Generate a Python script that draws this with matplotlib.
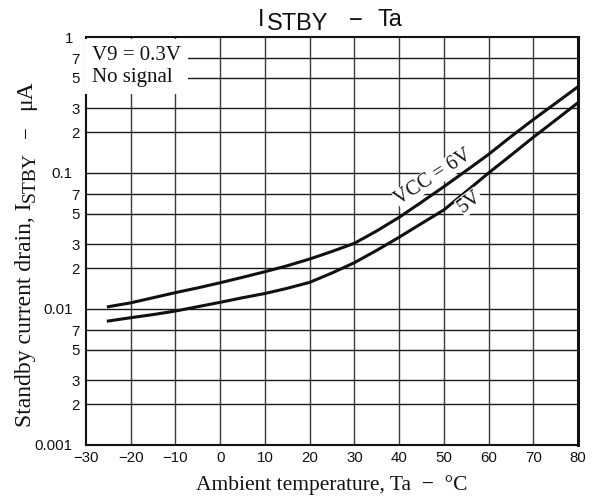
import matplotlib
matplotlib.use("Agg")
import matplotlib.pyplot as plt
from matplotlib.ticker import FixedLocator, FixedFormatter, NullLocator

# ---- data ----
temps = [-25, -20, -15, -10, -5, 0, 5, 10, 15, 20, 25, 30, 35, 40, 45, 50, 55, 60, 65, 70, 75, 80]
i_vcc6 = [0.0104, 0.0111, 0.0121, 0.0132, 0.0143, 0.0156, 0.0171, 0.0188, 0.0208, 0.0233,
          0.0265, 0.0304, 0.0375, 0.0472, 0.061, 0.0793, 0.104, 0.137, 0.185, 0.247, 0.326, 0.431]
i_vcc5 = [0.00816, 0.00863, 0.0091, 0.00966, 0.0104, 0.0112, 0.0121, 0.0130, 0.0142, 0.0157,
          0.0184, 0.0219, 0.0270, 0.0337, 0.0425, 0.0535, 0.073, 0.100, 0.135, 0.183, 0.245, 0.329]

x_ticks = [-30, -20, -10, 0, 10, 20, 30, 40, 50, 60, 70, 80]
x_labels = ['\u221230', '\u221220', '\u221210', '0', '10', '20', '30', '40', '50', '60', '70', '80']
y_ticks = [0.001, 0.002, 0.003, 0.005, 0.007, 0.01, 0.02, 0.03, 0.05, 0.07,
           0.1, 0.2, 0.3, 0.5, 0.7, 1.0]
y_labels = ['0.001', '2', '3', '5', '7', '0.01', '2', '3', '5', '7',
            '0.1', '2', '3', '5', '7', '1']

INK = '#111111'
SERIF = 'Liberation Serif'
SANS = 'Liberation Sans'

W, H = 598, 500
fig = plt.figure(figsize=(W / 100, H / 100), dpi=100)
ax = fig.add_axes([86 / W, 55 / H, 492 / W, 408 / H])
ax.set_yscale('log')
ax.set_xlim(-30, 80)
ax.set_ylim(0.001, 1)

# grid
for xv in x_ticks[1:-1]:
    ax.axvline(xv, color='#3a3a3a', lw=1.0, zorder=1)
for yv in y_ticks[1:-1]:
    ax.axhline(yv, color='#1a1a1a', lw=1.0, zorder=1)

ax.xaxis.set_major_locator(FixedLocator(x_ticks))
ax.xaxis.set_major_formatter(FixedFormatter(x_labels))
ax.xaxis.set_minor_locator(NullLocator())
ax.yaxis.set_major_locator(FixedLocator(y_ticks))
ax.yaxis.set_major_formatter(FixedFormatter(y_labels))
ax.yaxis.set_minor_locator(NullLocator())
ax.tick_params(length=0, labelsize=10.8, pad=4.5)
for tk, lab in zip(ax.yaxis.get_major_ticks(), y_labels):
    tk.set_pad(9.5 if '.' in lab or lab == '1' else 4.5)
for lab in ax.get_xticklabels() + ax.get_yticklabels():
    lab.set_family(SANS)
    lab.set_color(INK)

for s in ax.spines.values():
    s.set_linewidth(1.5)
    s.set_color(INK)
ax.spines['right'].set_linewidth(2.2)

# curves
ax.plot(temps, i_vcc6, color=INK, lw=2.2, zorder=4, solid_joinstyle='round')
ax.plot(temps, i_vcc5, color=INK, lw=2.2, zorder=4, solid_joinstyle='round')

# annotations
ax.text(-28.6, 0.86, 'V9 = 0.3V\nNo signal', family=SERIF, fontsize=15,
        va='top', ha='left', linespacing=1.2, zorder=5, color=INK,
        bbox=dict(facecolor='white', edgecolor='none', pad=5))
ax.text(47.6, 0.0936, 'VCC = 6V', family=SERIF, fontsize=14.5,
        rotation=33, ha='center', va='center', rotation_mode='anchor', zorder=5, color=INK,
        bbox=dict(facecolor='white', edgecolor='none', pad=0.3))
ax.text(55.8, 0.0612, '5V', family=SERIF, fontsize=14.5,
        rotation=37, ha='center', va='center', rotation_mode='anchor', zorder=5, color=INK,
        bbox=dict(facecolor='white', edgecolor='none', pad=0.3))

# title built from pieces (STBY lowered)
TFS = 17
tkw = dict(family=SANS, fontsize=TFS, ha='left', va='baseline', color=INK)
fig.text(257.5 / W, 1 - 26.5 / H, 'I', **tkw)
fig.text(266.5 / W, 1 - 30 / H, 'STBY', **tkw)
fig.text(349 / W, 1 - 26.5 / H, '\u2212', **tkw)
fig.text(378 / W, 1 - 26.5 / H, 'Ta', **tkw)

# x label
ax.set_xlabel('Ambient temperature, Ta  \u2212  \u00b0C', family=SERIF,
              fontsize=15.5, labelpad=7, color=INK)

# y label built from pieces (subscript lowered)
xb = 31.5
kw = dict(rotation=90, rotation_mode='anchor', ha='left', va='baseline',
          family=SERIF, color=INK)
fig.text(xb / W, (H - 427) / H, 'Standby current drain, I', fontsize=17, **kw)
fig.text((xb + 3) / W, (H - 202) / H, 'STBY', fontsize=14, **kw)
fig.text(xb / W, (H - 138) / H, '\u2212', fontsize=15, **kw)
fig.text(xb / W, (H - 110) / H, '\u03bcA', fontsize=17, **kw)

fig.savefig('out.png', dpi=100, facecolor='white')
